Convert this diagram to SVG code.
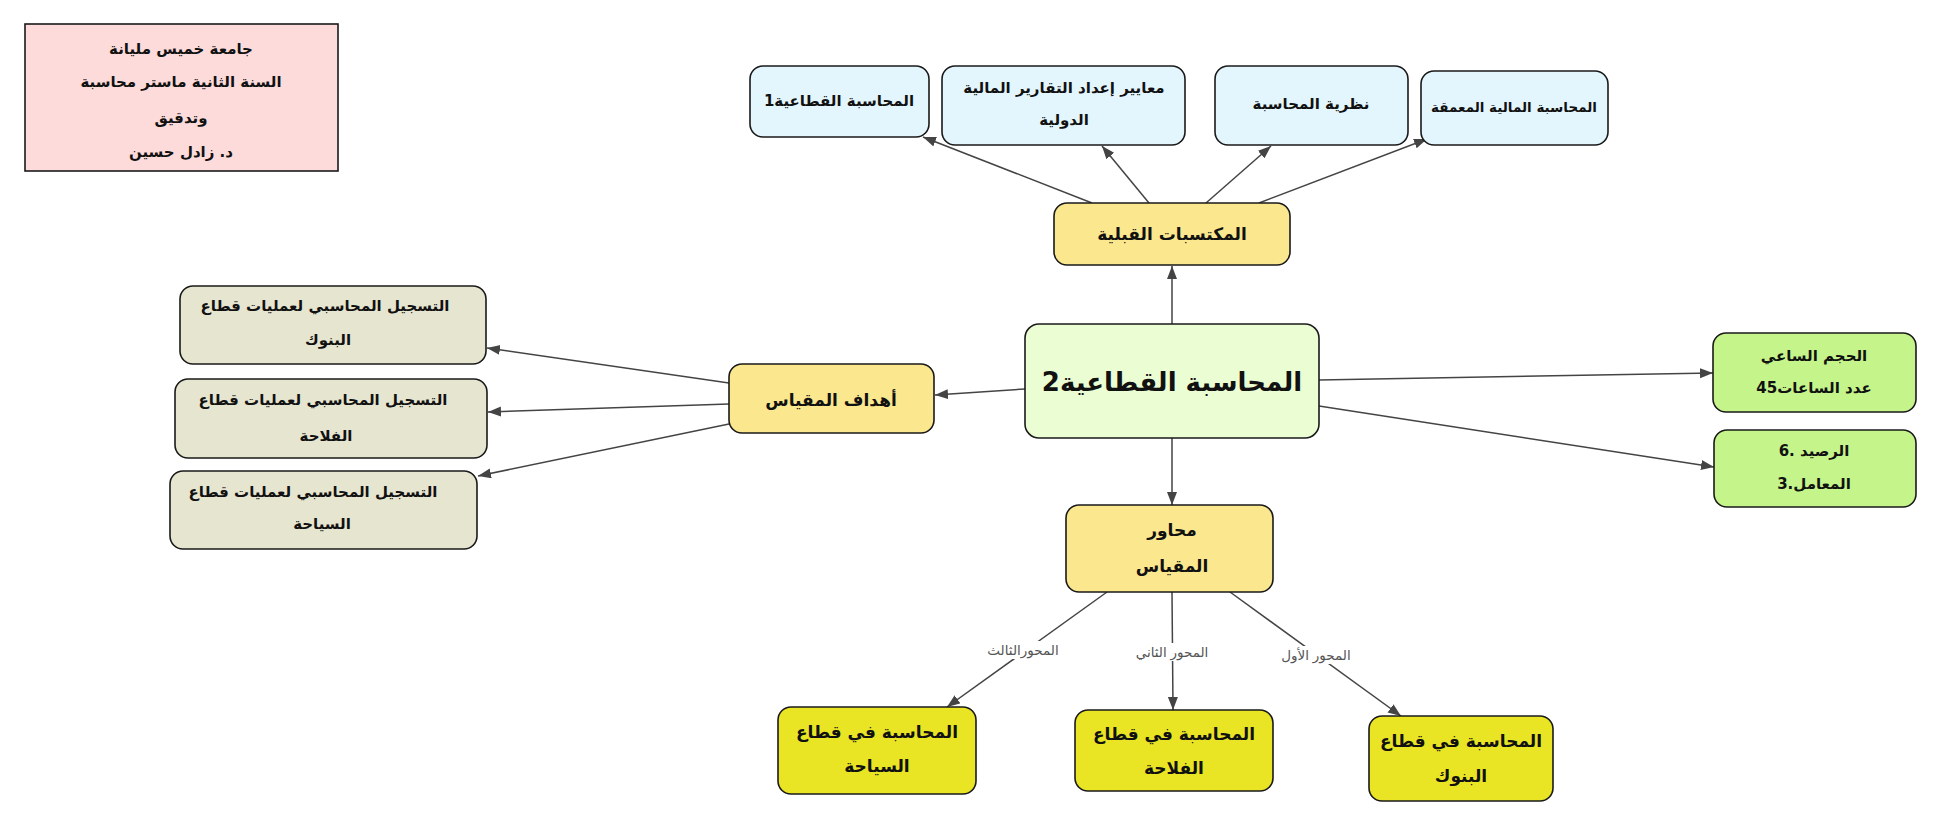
<svg xmlns="http://www.w3.org/2000/svg" width="1942" height="827" viewBox="0 0 1942 827">
<defs>
<style>
.box{stroke:#1a1a1a;stroke-width:1.6}
.info{fill:#fddbdb}
.blue{fill:#e4f6fd}
.yel{fill:#fbe78e}
.ctr{fill:#ebfdd3}
.grey{fill:#e6e5d0}
.grn{fill:#c5f58a}
.byel{fill:#e9e524}
text{font-family:'DejaVu Sans','Noto Sans',sans-serif;fill:#111;text-anchor:middle;direction:rtl;font-weight:bold}
.t{font-size:15px}
.ts{font-size:13.5px}
.tb{font-size:17px}
.big{font-size:26px}
.lbl{font-size:13.5px;font-weight:normal;fill:#555;font-family:'Liberation Sans','DejaVu Sans',sans-serif}
.edge{stroke:#444;stroke-width:1.5;fill:none}
</style>
<marker id="arr" markerUnits="userSpaceOnUse" markerWidth="14" markerHeight="12" refX="13" refY="5" orient="auto">
<path d="M0,0 L13,5 L0,10 z" fill="#444"/>
</marker>
</defs>
<rect width="1942" height="827" fill="#ffffff"/>

<g id="connectors">
<line class="edge" x1="1092" y1="203" x2="923" y2="137" marker-end="url(#arr)"/>
<line class="edge" x1="1149" y1="203" x2="1102" y2="146" marker-end="url(#arr)"/>
<line class="edge" x1="1206" y1="203" x2="1271" y2="146" marker-end="url(#arr)"/>
<line class="edge" x1="1259" y1="203" x2="1427" y2="139" marker-end="url(#arr)"/>
<line class="edge" x1="1172" y1="324" x2="1172" y2="266" marker-end="url(#arr)"/>
<line class="edge" x1="1025" y1="389" x2="935" y2="395" marker-end="url(#arr)"/>
<line class="edge" x1="729" y1="383" x2="487" y2="348" marker-end="url(#arr)"/>
<line class="edge" x1="729" y1="404" x2="488" y2="412" marker-end="url(#arr)"/>
<line class="edge" x1="729" y1="424" x2="478" y2="476" marker-end="url(#arr)"/>
<line class="edge" x1="1319" y1="380" x2="1713" y2="373" marker-end="url(#arr)"/>
<line class="edge" x1="1319" y1="406" x2="1714" y2="467" marker-end="url(#arr)"/>
<line class="edge" x1="1172" y1="438" x2="1172" y2="505" marker-end="url(#arr)"/>
<line class="edge" x1="1107" y1="592" x2="947" y2="707" marker-end="url(#arr)"/>
<line class="edge" x1="1172" y1="592" x2="1173" y2="710" marker-end="url(#arr)"/>
<line class="edge" x1="1230" y1="592" x2="1401" y2="716" marker-end="url(#arr)"/>
<rect x="982" y="641" width="80" height="18" fill="#fff"/>
<text class="lbl" x="1023" y="655">المحورالثالث</text>
<rect x="1136" y="643" width="74" height="18" fill="#fff"/>
<text class="lbl" x="1172" y="657">المحور الثاني</text>
<rect x="1280" y="646" width="72" height="18" fill="#fff"/>
<text class="lbl" x="1316" y="660">المحور الأول</text>
</g>

<g id="info">
<rect class="box info" x="25" y="24" width="313" height="147"/>
<text class="t" x="181" y="54">جامعة خميس مليانة</text>
<text class="t" x="181" y="87">السنة الثانية ماستر محاسبة</text>
<text class="t" x="181" y="123">وتدقيق</text>
<text class="t" x="181" y="157">د. زادل حسين</text>
</g>

<g id="n-a">
<rect class="box blue" x="750" y="66" width="179" height="71" rx="13"/>
<text class="t" x="839" y="106">المحاسبة القطاعية1</text>
</g>
<g id="n-b">
<rect class="box blue" x="942" y="66" width="243" height="79" rx="13"/>
<text class="t" x="1064" y="93">معايير إعداد التقارير المالية</text>
<text class="t" x="1064" y="125">الدولية</text>
</g>
<g id="n-c">
<rect class="box blue" x="1215" y="66" width="193" height="79" rx="13"/>
<text class="t" x="1311" y="109">نظرية المحاسبة</text>
</g>
<g id="n-d">
<rect class="box blue" x="1421" y="71" width="187" height="74" rx="13"/>
<text class="ts" x="1514" y="112">المحاسبة المالية المعمقة</text>
</g>

<g id="n-mukhtasabat">
<rect class="box yel" x="1054" y="203" width="236" height="62" rx="13"/>
<text class="tb" x="1172" y="240">المكتسبات القبلية</text>
</g>

<g id="n-center">
<rect class="box ctr" x="1025" y="324" width="294" height="114" rx="14"/>
<text class="big" x="1172" y="391">المحاسبة القطاعية2</text>
</g>

<g id="n-ahdaf">
<rect class="box yel" x="729" y="364" width="205" height="69" rx="13"/>
<text class="tb" x="831" y="406">أهداف المقياس</text>
</g>

<g id="n-l1">
<rect class="box grey" x="180" y="286" width="306" height="78" rx="13"/>
<text class="t" x="325" y="311">التسجيل المحاسبي لعمليات قطاع</text>
<text class="t" x="328" y="345">البنوك</text>
</g>
<g id="n-l2">
<rect class="box grey" x="175" y="379" width="312" height="79" rx="13"/>
<text class="t" x="323" y="405">التسجيل المحاسبي لعمليات قطاع</text>
<text class="t" x="326" y="441">الفلاحة</text>
</g>
<g id="n-l3">
<rect class="box grey" x="170" y="471" width="307" height="78" rx="13"/>
<text class="t" x="313" y="497">التسجيل المحاسبي لعمليات قطاع</text>
<text class="t" x="322" y="529">السياحة</text>
</g>

<g id="n-r1">
<rect class="box grn" x="1713" y="333" width="203" height="79" rx="13"/>
<text class="t" x="1814" y="361">الحجم الساعي</text>
<text class="t" x="1814" y="393">عدد الساعات45</text>
</g>
<g id="n-r2">
<rect class="box grn" x="1714" y="430" width="202" height="77" rx="13"/>
<text class="t" x="1814" y="456">الرصيد .6</text>
<text class="t" x="1814" y="489">المعامل.3</text>
</g>

<g id="n-mahawir">
<rect class="box yel" x="1066" y="505" width="207" height="87" rx="13"/>
<text class="tb" x="1172" y="536">محاور</text>
<text class="tb" x="1172" y="572">المقياس</text>
</g>

<g id="n-b1">
<rect class="box byel" x="778" y="707" width="198" height="87" rx="13"/>
<text class="tb" x="877" y="738">المحاسبة في قطاع</text>
<text class="tb" x="877" y="772">السياحة</text>
</g>
<g id="n-b2">
<rect class="box byel" x="1075" y="710" width="198" height="81" rx="13"/>
<text class="tb" x="1174" y="740">المحاسبة في قطاع</text>
<text class="tb" x="1174" y="774">الفلاحة</text>
</g>
<g id="n-b3">
<rect class="box byel" x="1369" y="716" width="184" height="85" rx="13"/>
<text class="tb" x="1461" y="747">المحاسبة في قطاع</text>
<text class="tb" x="1461" y="782">البنوك</text>
</g>
</svg>
